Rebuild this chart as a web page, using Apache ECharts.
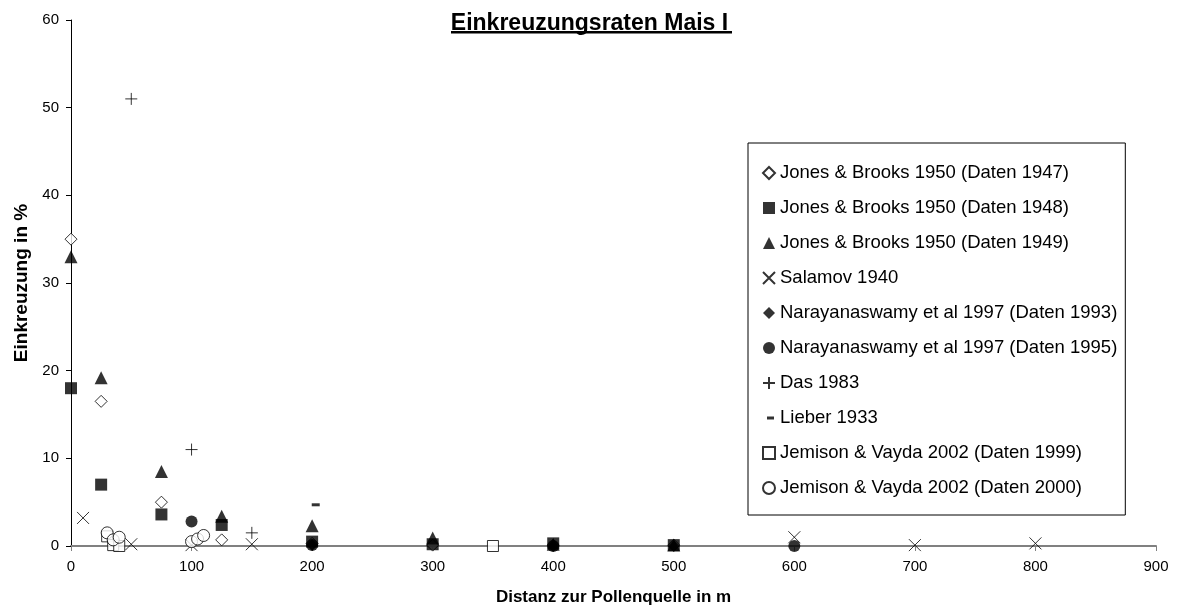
<!DOCTYPE html>
<html>
<head>
<meta charset="utf-8">
<script src="https://cdn.jsdelivr.net/npm/echarts@6/dist/echarts.min.js"></script>
<style>
  html, body { margin: 0; padding: 0; background: #fff; }
  #main { width: 1179px; height: 616px; }
</style>
</head>
<body>
<div id="main"></div>
<script>
// Werte: [Distanz m, Einkreuzung %]
const jones1947 = [[0, 35], [25, 16.5], [75, 5], [125, 0.7], [200, 0.3], [300, 0.1], [400, 0.1], [500, 0.1]]
const jones1948 = [[0, 18], [25, 7], [75, 3.6], [125, 2.4], [200, 0.5], [300, 0.2], [400, 0.3], [500, 0.1]]
const jones1949 = [[0, 33], [25, 19.2], [75, 8.5], [125, 3.4], [200, 2.3], [300, 0.9], [400, 0.2], [500, 0.1]]
const salamov = [[10, 3.2], [50, 0.2], [100, 0.1], [150, 0.2], [600, 1.0], [700, 0.1], [800, 0.3]]
const nara1993 = [[200, 0.1], [400, 0], [500, 0]]
const nara1995 = [[100, 2.8], [200, 0.1], [400, 0], [600, 0]]
const das = [[50, 51], [100, 11], [150, 1.5]]
const lieber = [[203, 4.7]]
const jemison1999 = [[30, 1.1], [35, 0.1], [40, 0], [350, 0]]
const jemison2000 = [[30, 1.5], [35, 0.7], [40, 1.0], [100, 0.5], [105, 0.8], [110, 1.2]]

const xTicks = [0, 900, 100]  // min, max, interval
const yTicks = [0, 60, 10]

const crossPath = 'path://M0,0L10,10M10,0L0,10'
const plusPath = 'path://M5,0L5,10M0,5L10,5'
// kleiner Strich fuer die Legende (winzige Ecken halten die Box 12x12)
const dashIcon = 'path://M0,0L0.01,0L0.01,0.01Z M4,4.5L11,4.5L11,7.5L4,7.5Z M11.99,11.99L12,11.99L12,12Z'

const filled = { color: '#000' }
const hollow = { color: '#fff', borderColor: '#000', borderWidth: 1 }
const stroke = { color: 'transparent', borderColor: '#000', borderWidth: 1 }

function mk(name, data, symbol, size, style) {
    return {
        name: name,
        type: 'scatter',
        data: data,
        symbol: symbol,
        symbolSize: size,
        itemStyle: style,
        emphasis: { disabled: true }
    }
}

const seriesList = [
    mk('Jones & Brooks 1950 (Daten 1947)', jones1947, 'diamond', 12, hollow),
    mk('Jones & Brooks 1950 (Daten 1948)', jones1948, 'rect', 12, filled),
    mk('Jones & Brooks 1950 (Daten 1949)', jones1949, 'triangle', 13, filled),
    mk('Salamov 1940', salamov, crossPath, 12, stroke),
    mk('Narayanaswamy et al 1997 (Daten 1993)', nara1993, 'diamond', 12, filled),
    mk('Narayanaswamy et al 1997 (Daten 1995)', nara1995, 'circle', 12, filled),
    mk('Das 1983', das, plusPath, 12, stroke),
    mk('Lieber 1933', lieber, 'rect', [8, 3], filled),
    mk('Jemison & Vayda 2002 (Daten 1999)', jemison1999, 'rect', 11, hollow),
    mk('Jemison & Vayda 2002 (Daten 2000)', jemison2000, 'circle', 12, hollow)
]

let myChart = echarts.init(document.getElementById('main'))

let option = {
    animation: false,
    textStyle: { fontFamily: 'Liberation Sans, Arial, sans-serif' },
    title: {
        text: 'Einkreuzungsraten Mais I',
        left: 'center',
        top: 7,
        textStyle: { fontSize: 23, fontWeight: 'bold', color: '#000' }
    },
    graphic: [
        { type: 'rect', shape: { x: 451, y: 31, width: 281, height: 2.5 }, style: { fill: '#000' } }
    ],
    grid: { left: 71, right: 23, top: 20, bottom: 70 },
    legend: {
        orient: 'vertical',
        left: 748,
        top: 143,
        padding: [20, 8, 17, 14],
        itemGap: 15,
        itemWidth: 12,
        itemHeight: 12,
        borderColor: '#000',
        borderWidth: 1,
        backgroundColor: '#fff',
        textStyle: { fontSize: 18.5, color: '#000', lineHeight: 20 },
        data: seriesList.map(s => s.name === 'Lieber 1933' ? { name: s.name, icon: dashIcon } : s.name)
    },
    xAxis: {
        type: 'value',
        min: xTicks[0], max: xTicks[1], interval: xTicks[2],
        name: 'Distanz zur Pollenquelle in m',
        nameLocation: 'middle',
        nameGap: 43,
        nameTextStyle: { fontSize: 17, fontWeight: 'bold', color: '#000' },
        axisLine: { lineStyle: { color: '#808080', width: 2 } },
        axisTick: { show: true, length: 5, lineStyle: { color: '#808080' } },
        axisLabel: { fontSize: 15, color: '#000', margin: 13 },
        splitLine: { show: false }
    },
    yAxis: {
        type: 'value',
        min: yTicks[0], max: yTicks[1], interval: yTicks[2],
        name: 'Einkreuzung in %',
        nameLocation: 'middle',
        nameGap: 40,
        nameRotate: 90,
        nameTextStyle: { fontSize: 19, fontWeight: 'bold', color: '#000' },
        axisLine: { show: true, lineStyle: { color: '#000', width: 1 } },
        axisTick: { show: true, length: 5, lineStyle: { color: '#000' } },
        axisLabel: { fontSize: 15, color: '#000', margin: 12 },
        splitLine: { show: false }
    },
    series: seriesList
}

myChart.setOption(option)
</script>
</body>
</html>
